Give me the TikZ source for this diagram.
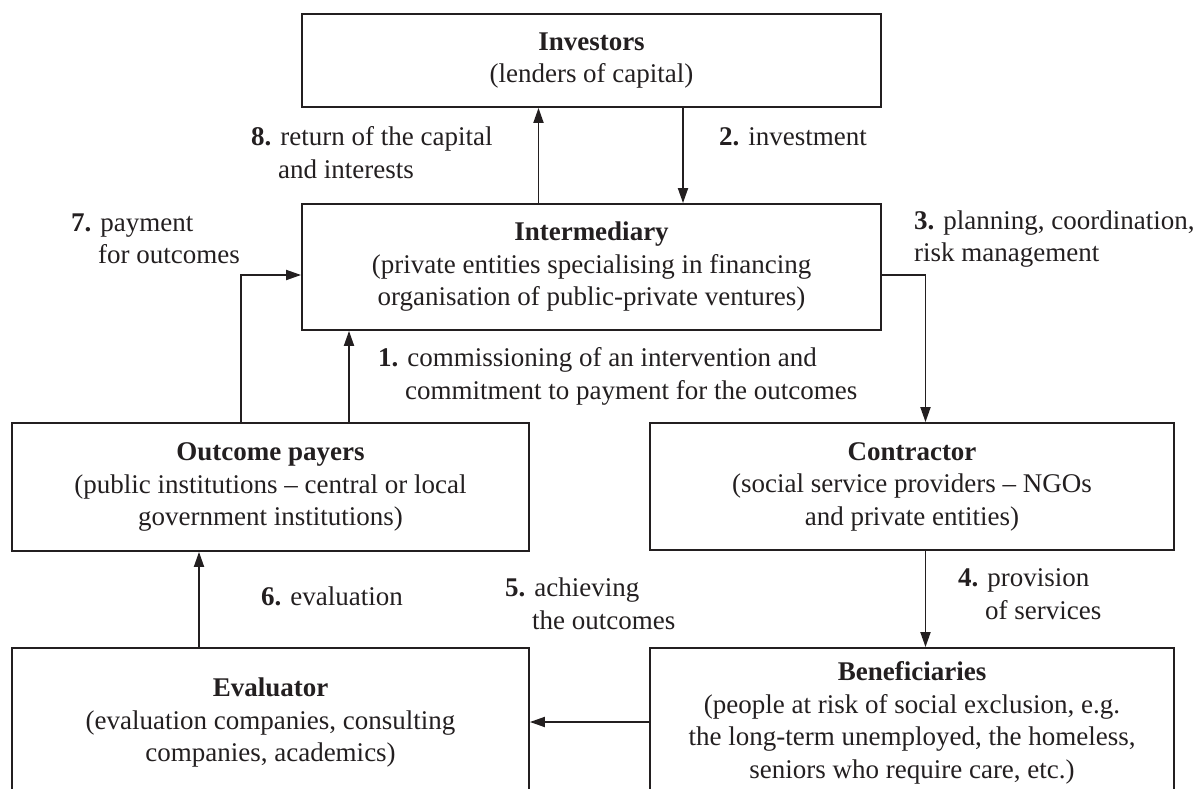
\documentclass[tikz,border=0pt]{standalone}
\usepackage{fontspec}
\setmainfont{Liberation Serif}
\usetikzlibrary{arrows.meta}
\definecolor{ink}{HTML}{231F20}
\begin{document}
\begin{tikzpicture}[x=1pt,y=-1pt,
  every node/.style={font=\fontsize{27}{32.5}\selectfont, text=ink},
  party/.style={draw=ink, line width=1.8pt, align=center, inner sep=0pt},
  lbl/.style={anchor=west, align=left, inner sep=0pt},
  flow/.style={draw=ink, line width=1.8pt, -{Triangle[length=15pt,width=10pt]}}]
\clip (0,0) rectangle (1195,789);

% the six parties
\node[party, minimum width=579pt, minimum height=93pt] (inv) at (591.5,60.5)
  {\textbf{Investors}\\(lenders of capital)};
\node[party, minimum width=579pt, minimum height=126pt] (inter) at (591.5,267)
  {\textbf{Intermediary}\\(private entities specialising in financing\\organisation of public-private ventures)};
\node[party, minimum width=517pt, minimum height=128pt] (payers) at (270.5,487)
  {\textbf{Outcome payers}\\(public institutions -- central or local\\government institutions)};
\node[party, minimum width=524pt, minimum height=127pt] (contr) at (912,486.5)
  {\textbf{Contractor}\\(social service providers -- NGOs\\and private entities)};
\node[party, minimum width=517pt, minimum height=150pt] (eval) at (270.5,723)
  {\textbf{Evaluator}\\(evaluation companies, consulting\\companies, academics)};
\node[party, minimum width=524pt, minimum height=150pt] (benef) at (912,723)
  {\textbf{Beneficiaries}\\(people at risk of social exclusion, e.g.\\the long-term unemployed, the homeless,\\seniors who require care, etc.)};

% connector lanes
\coordinate (x8) at (538.5,0);
\coordinate (x2) at (683,0);
\coordinate (x34) at (925.5,0);
\coordinate (x7) at (241,0);
\coordinate (x1) at (349,0);
\coordinate (x6) at (199,0);
\coordinate (y37) at (0,275);
\coordinate (y5) at (0,722);

% flows
\draw[flow] (inter.north -| x8) -- (inv.south -| x8);
\draw[flow] (inv.south -| x2) -- (inter.north -| x2);
\draw[flow] (inter.east |- y37) -| (contr.north -| x34);
\draw[flow] (contr.south -| x34) -- (benef.north -| x34);
\draw[flow] (benef.west |- y5) -- (eval.east |- y5);
\draw[flow] (eval.north -| x6) -- (payers.south -| x6);
\draw[flow] (payers.north -| x7) |- (inter.west |- y37);
\draw[flow] (payers.north -| x1) -- (inter.south -| x1);

% step labels
\node[lbl] (l8) at (251,152.5) {\textbf{8.} return of the capital\\\phantom{\textbf{8.}\ }and interests};
\node[lbl] (l2) at (719,137) {\textbf{2.} investment};
\node[lbl] (l7) at (71,239) {\textbf{7.} payment\\\phantom{\textbf{7.}\ }for outcomes};
\node[lbl] (l3) at (914,239) {\textbf{3.} planning, coordination,\\risk management};
\node[lbl] (l1) at (378,376.5) {\textbf{1.} commissioning of an intervention and\\\phantom{\textbf{1.}\ }commitment to payment for the outcomes};
\node[lbl] (l6) at (261,596) {\textbf{6.} evaluation};
\node[lbl] (l5) at (505,604) {\textbf{5.} achieving\\\phantom{\textbf{5.}\ }the outcomes};
\node[lbl] (l4) at (958,594) {\textbf{4.} provision\\\phantom{\textbf{4.}\ }of services};
\end{tikzpicture}
\end{document}
